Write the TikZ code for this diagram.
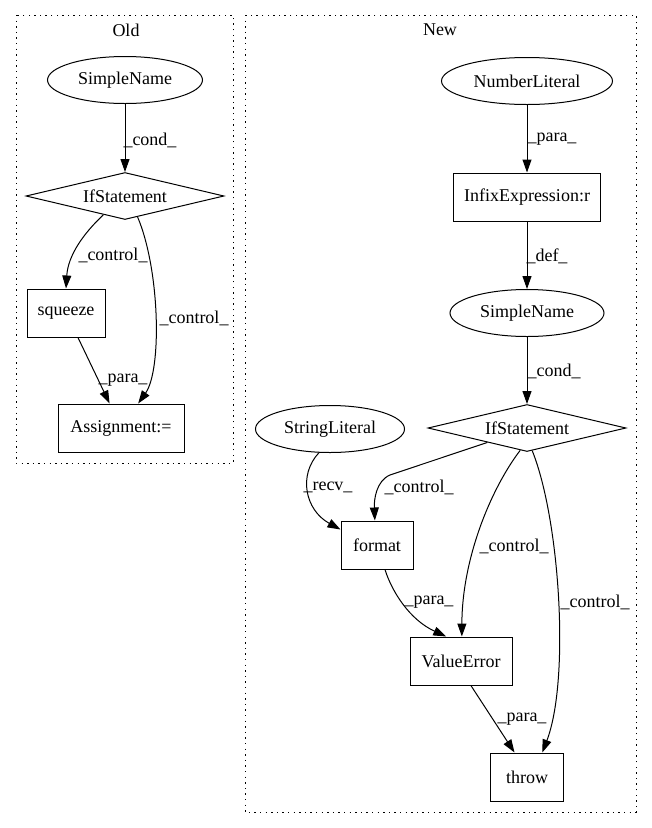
\documentclass[tikz,border=0pt]{standalone}
\usepackage{fontspec}
\setmainfont{Liberation Serif}
\usetikzlibrary{arrows.meta,shapes,positioning,calc}

\begin{document}
\begin{tikzpicture}[
    x=1pt, y=-1pt,
    every node/.style={font=\fontsize{18}{21}\selectfont, inner sep=1pt},
    box/.style={draw, line width=1pt, rectangle, minimum height=48pt},
    oval/.style={draw, line width=1pt, ellipse, minimum height=47pt},
    decision/.style={draw, line width=1pt, diamond, aspect=4.2, minimum width=198pt, minimum height=47pt},
    edge/.style={draw, line width=1pt, -{Triangle[length=13pt,width=9pt]}},
    elabel/.style={inner sep=0pt},
    cluster/.style={draw, line width=1pt, dash pattern=on 1.4pt off 4.2pt}
]
    \useasboundingbox (0,0) rectangle (652,828);

    % Old
    \draw[cluster] (16,15) rectangle (233,463);
    \node (old) at (126,30) {Old};
    \node[oval, minimum width=155pt] (sn1) at (125,80) {SimpleName};
    \node[decision] (if1) at (125,196) {IfStatement};
    \node[box, minimum width=78pt] (squ) at (66,313) {squeeze};
    \node[box, minimum width=126pt] (asg) at (121,428) {Assignment:=};

    \draw[edge] (sn1) -- (if1);
    \draw[edge] (if1.221) .. controls (84,233) and (68,255) .. (squ.north);
    \draw[edge] (if1.301) .. controls (160,270) and (162,370) .. (asg.55);
    \draw[edge] (squ.-64) -- (asg.115);

    \node[elabel] (l1) at (150,140) {\_cond\_};
    \node[elabel] (l2) at (113,255) {\_control\_};
    \node[elabel] (l3) at (194,318) {\_control\_};
    \node[elabel] (l4) at (123,380) {\_para\_};

    % New
    \draw[cluster] (245,15) rectangle (636,812);
    \node (new) at (440,30) {New};
    \node[oval, minimum width=171pt] (nl) at (527,81) {NumberLiteral};
    \node[box, minimum width=147pt] (infix) at (527,197) {InfixExpression:r};
    \node[oval, minimum width=154pt] (sn2) at (527,313) {SimpleName};
    \node[decision] (if2) at (527,428) {IfStatement};
    \node[oval, minimum width=149pt] (sl) at (330,429) {StringLiteral};
    \node[box, minimum width=72pt] (fmt) at (377,545) {format};
    \node[box, minimum width=102pt] (ve) at (461,661) {ValueError};
    \node[box, minimum width=73pt] (thr) at (527,777) {throw};

    \draw[edge] (nl) -- (infix);
    \draw[edge] (infix) -- (sn2);
    \draw[edge] (sn2) -- (if2);
    \draw[edge] (sl.-115) .. controls (298,475) and (305,510) .. (fmt.157);
    \draw[edge] (if2.200) -- (390,475) .. controls (376,481) and (374,500) .. (fmt.95);
    \draw[edge] (if2.253) .. controls (490,490) and (462,560) .. (ve.88);
    \draw[edge] (if2.283) .. controls (560,520) and (570,680) .. (thr.58);
    \draw[edge] (fmt.-72) .. controls (392,592) and (410,620) .. (ve.121);
    \draw[edge] (ve.-68) -- (thr.117);

    \node[elabel] (l5) at (552,139) {\_para\_};
    \node[elabel] (l6) at (547,256) {\_def\_};
    \node[elabel] (l7) at (554,371) {\_cond\_};
    \node[elabel] (l8) at (328,487) {\_recv\_};
    \node[elabel] (l9) at (419,487) {\_control\_};
    \node[elabel] (l10) at (514,546) {\_control\_};
    \node[elabel] (l11) at (595,602) {\_control\_};
    \node[elabel] (l12) at (429,602) {\_para\_};
    \node[elabel] (l13) at (522,719) {\_para\_};
\end{tikzpicture}
\end{document}
